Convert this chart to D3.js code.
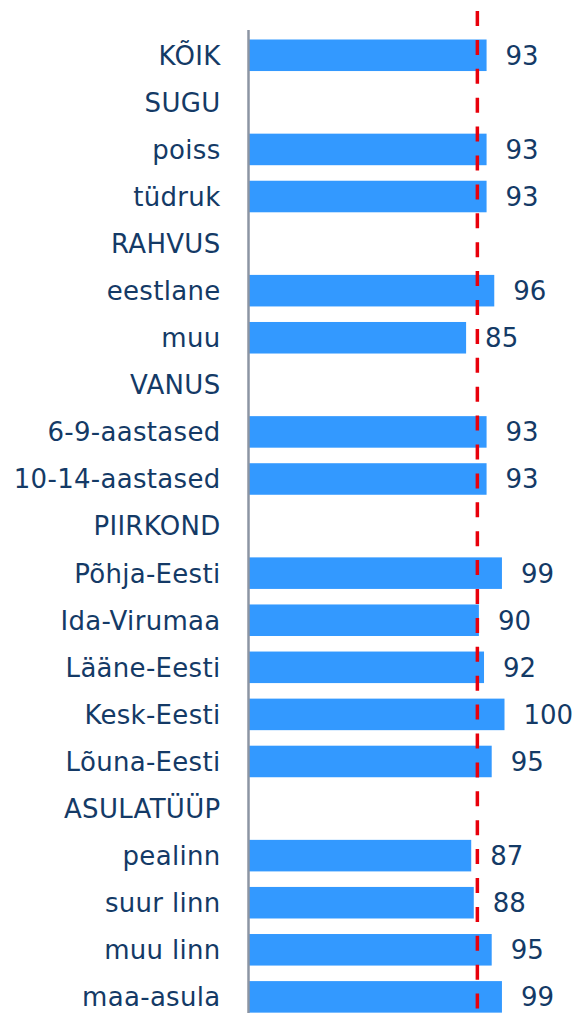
<!DOCTYPE html>
<html>
<head>
<meta charset="utf-8">
<script src="https://cdn.jsdelivr.net/npm/d3@7"></script>
<style>
  body { margin: 0; background: #fff; }
  svg text { font-family: "DejaVu Sans", Verdana, sans-serif; fill: #143a66; }
</style>
</head>
<body>
<div id="chart"></div>
<script>
// rows in display order; headers have no value
var categories = ["KÕIK", "SUGU", "poiss", "tüdruk", "RAHVUS", "eestlane", "muu",
  "VANUS", "6-9-aastased", "10-14-aastased", "PIIRKOND", "Põhja-Eesti", "Ida-Virumaa",
  "Lääne-Eesti", "Kesk-Eesti", "Lõuna-Eesti", "ASULATÜÜP", "pealinn", "suur linn",
  "muu linn", "maa-asula"];
var values = [93, null, 93, 93, null, 96, 85,
  null, 93, 93, null, 99, 90,
  92, 100, 95, null, 87, 88,
  95, 99];
var referenceValue = 89.4;

var width = 577, height = 1013;
var axisX = 248.5;
var step = 47.08;

var svg = d3.select("#chart").append("svg")
  .attr("width", width)
  .attr("height", height);

var x = d3.scaleLinear().domain([0, 100]).range([axisX, axisX + 256]);

var y = d3.scaleBand()
  .domain(categories)
  .range([39.5 - step * 0.165, 39.5 - step * 0.165 + categories.length * step])
  .paddingInner(0.33)
  .paddingOuter(0.165);

var data = categories.map(function(c, i) { return {cat: c, value: values[i]}; });

svg.selectAll("rect.bar")
  .data(data.filter(function(d) { return d.value != null; }))
  .enter()
  .append("rect")
  .attr("class", "bar")
  .attr("x", x(0))
  .attr("y", function(d) { return y(d.cat); })
  .attr("width", function(d) { return x(d.value) - x(0); })
  .attr("height", y.bandwidth())
  .attr("fill", "#3399ff");

// category labels
svg.selectAll("text.cat")
  .data(data)
  .enter()
  .append("text")
  .attr("class", "cat")
  .attr("x", axisX - 28)
  .attr("y", function(d) { return y(d.cat) + y.bandwidth() / 2; })
  .attr("dy", "0.36em")
  .attr("text-anchor", "end")
  .style("font-size", "26px")
  .style("letter-spacing", "0.3px")
  .text(function(d) { return d.cat; });

// value labels
svg.selectAll("text.val")
  .data(data.filter(function(d) { return d.value != null; }))
  .enter()
  .append("text")
  .attr("class", "val")
  .attr("x", function(d) { return x(d.value) + 19; })
  .attr("y", function(d) { return y(d.cat) + y.bandwidth() / 2; })
  .attr("dy", "0.36em")
  .style("font-size", "26px")
  .text(function(d) { return d.value; });

// axis line
svg.append("line")
  .attr("x1", axisX).attr("x2", axisX)
  .attr("y1", 30).attr("y2", height)
  .style("stroke", "#8c95a3")
  .style("stroke-width", 2.5);

// reference dashed line
svg.append("line")
  .attr("x1", x(referenceValue)).attr("x2", x(referenceValue))
  .attr("y1", 11).attr("y2", height)
  .style("stroke", "#e8000b")
  .style("stroke-width", 3.5)
  .style("stroke-dasharray", "15,13.9");
</script>
</body>
</html>
